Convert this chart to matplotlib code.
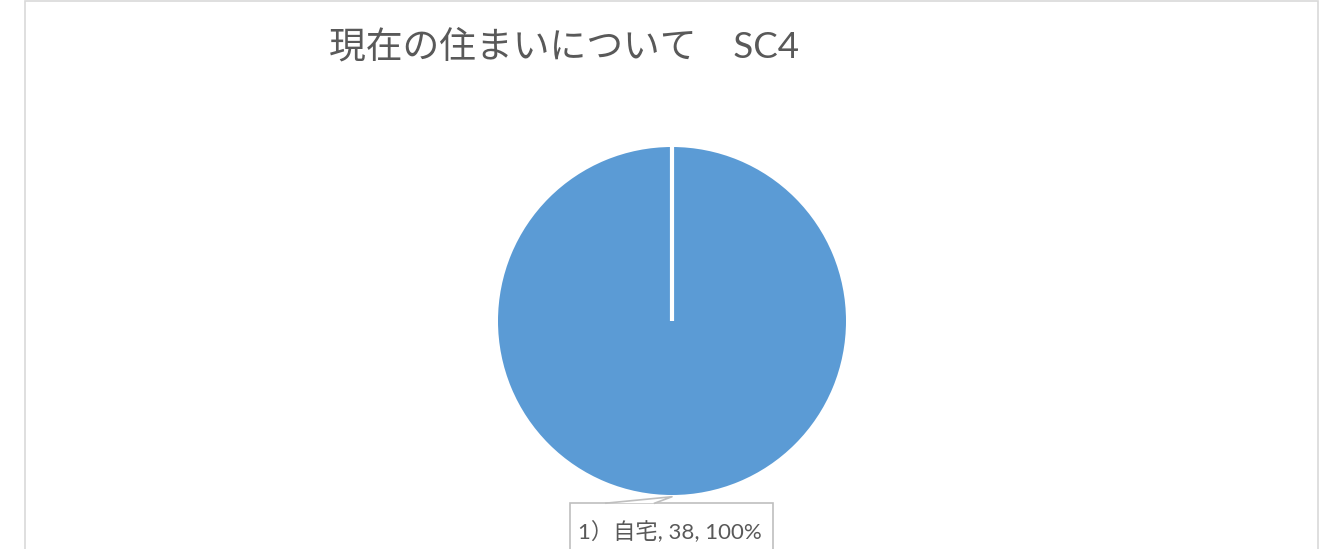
import matplotlib.pyplot as plt
from matplotlib.patches import Rectangle, Polygon

plt.rcParams['font.family'] = ['Lato', 'Noto Sans CJK JP', 'DejaVu Sans']

title = '現在の住まいについて　SC4'
categories = ['1）自宅']
values = [38]

W, H = 1331, 549
fig = plt.figure(figsize=(W / 100, H / 100), dpi=100)
fig.patch.set_facecolor('white')

# chart frame (runs past the bottom of the picture)
fig.add_artist(Rectangle((25.5 / W, -0.1), (1317.5 - 25.5) / W, 1.1 - 1 / H,
                         transform=fig.transFigure, fill=False,
                         edgecolor='#D9D9D9', linewidth=1.2))

fig.text(329 / W, 1 - 46 / H, title, fontsize=26.5, color='#595959',
         ha='left', va='center')

# pie: centre (672, 321), radius 174 px
r = 174
ax = fig.add_axes([(672 - r) / W, (H - 321 - r) / H, 2 * r / W, 2 * r / H])
wedges, _ = ax.pie(values, colors=['#5B9BD5'], startangle=90, counterclock=False,
                   radius=1, center=(0, 0))
for w in wedges:
    w.set_clip_on(False)
ax.plot([0, 0], [0, 1], color='white', linewidth=3, solid_capstyle='butt')
ax.set_xlim(-1, 1)
ax.set_ylim(-1, 1)
ax.set_aspect('equal')
ax.axis('off')

# data label callout
total = sum(values)
label = f'{categories[0]}, {values[0]}, {values[0] / total:.0%}'
box_l, box_r, box_t = -0.586, 0.583, -1.047
ax.add_patch(Rectangle((box_l, -1.6), box_r - box_l, box_t + 1.6, facecolor='white',
                       edgecolor='#BFBFBF', linewidth=1.2, clip_on=False, zorder=3))
ax.add_patch(Polygon([(-0.38, box_t), (0.0, -1.01), (-0.10, box_t)], closed=True,
                     facecolor='white', edgecolor='none', clip_on=False, zorder=4))
ax.plot([-0.38, 0.0, -0.10], [box_t, -1.01, box_t], color='#BFBFBF', linewidth=1.2,
        clip_on=False, zorder=5)
ax.text(-0.01, -1.205, label, fontsize=16, color='#595959', ha='center', va='center',
        zorder=6, clip_on=False)

fig.savefig('out.png', dpi=100, facecolor='white')
